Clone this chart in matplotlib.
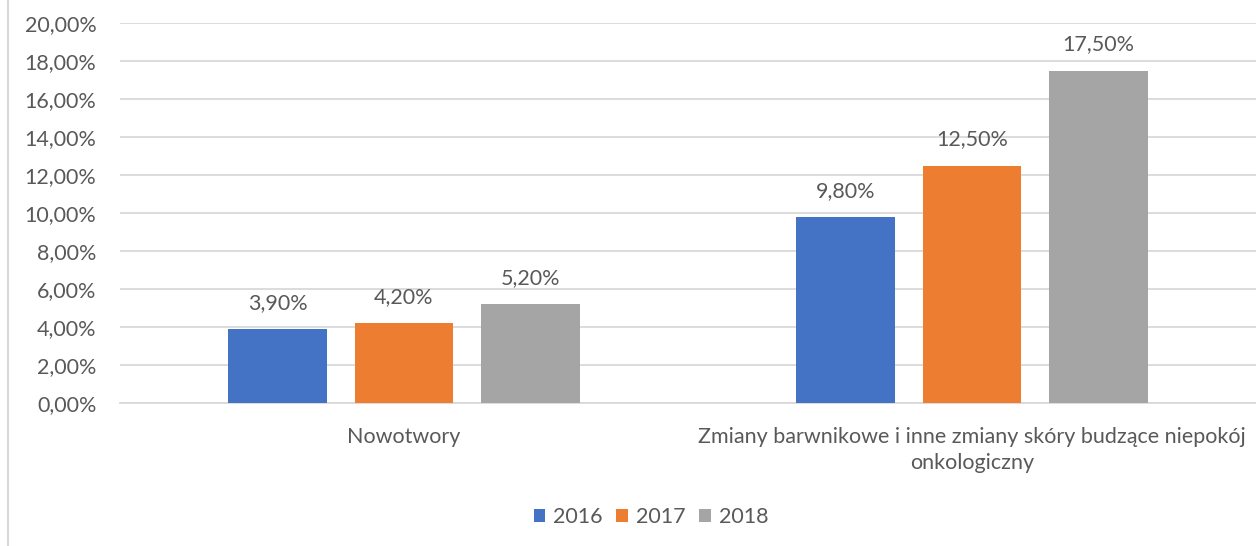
import numpy as np
import matplotlib.pyplot as plt
from matplotlib.patches import Patch
from matplotlib.lines import Line2D

categories = ["Nowotwory", "Zmiany barwnikowe i inne zmiany skóry budzące niepokój\nonkologiczny"]
years = ["2016", "2017", "2018"]
values_2016 = [3.9, 9.8]
values_2017 = [4.2, 12.5]
values_2018 = [5.2, 17.5]
yticks = [0, 2, 4, 6, 8, 10, 12, 14, 16, 18, 20]

COLORS = ["#4472c4", "#ed7d31", "#a5a5a5"]
TEXT = "#595959"
FS = 15.5

plt.rcParams["font.family"] = ["Lato", "DejaVu Sans"]

fig = plt.figure(figsize=(12.56, 5.46), dpi=100)
ax = fig.add_axes([120 / 1256, 1 - 403 / 546, 1136 / 1256, 380 / 546])

x = np.arange(len(categories))
width = 0.174
offset = 0.222
series = [values_2016, values_2017, values_2018]
for i, vals in enumerate(series):
    xs = x + (i - 1) * offset
    ax.bar(xs, vals, width=width, color=COLORS[i], zorder=3, label=years[i])
    for xv, v in zip(xs, vals):
        ax.text(xv, v + 0.85, "{:.2f}%".format(v).replace(".", ","),
                ha="center", va="bottom", fontsize=FS, color=TEXT)

ax.set_xlim(-0.5, 1.5)
ax.set_ylim(0, 20)
ax.set_yticks(yticks)
ax.set_yticklabels(["{:.2f}%".format(t).replace(".", ",") for t in yticks],
                   fontsize=FS, color=TEXT)
ax.set_xticks(x)
ax.set_xticklabels(categories, fontsize=FS, color=TEXT, linespacing=1.4)
ax.tick_params(axis="both", length=0)
ax.tick_params(axis="y", pad=17)
ax.tick_params(axis="x", pad=17)
ax.grid(axis="y", color="#d9d9d9", linewidth=1.3, zorder=0)
for s in ["top", "right", "left"]:
    ax.spines[s].set_visible(False)
ax.spines["bottom"].set_color("#d9d9d9")
ax.spines["bottom"].set_linewidth(1.3)

handles = [Patch(facecolor=c, label=y) for c, y in zip(COLORS, years)]
fig.legend(handles=handles, loc="center", bbox_to_anchor=(651 / 1256, 1 - 517 / 546),
           ncol=3, frameon=False, fontsize=FS, handlelength=0.55, handleheight=0.55,
           handletextpad=0.35, columnspacing=0.65, labelcolor=TEXT)

fig.add_artist(Line2D([7.5 / 1256, 7.5 / 1256], [0, 1], color="#d9d9d9", linewidth=1.5))

fig.savefig("out.png", dpi=100)
